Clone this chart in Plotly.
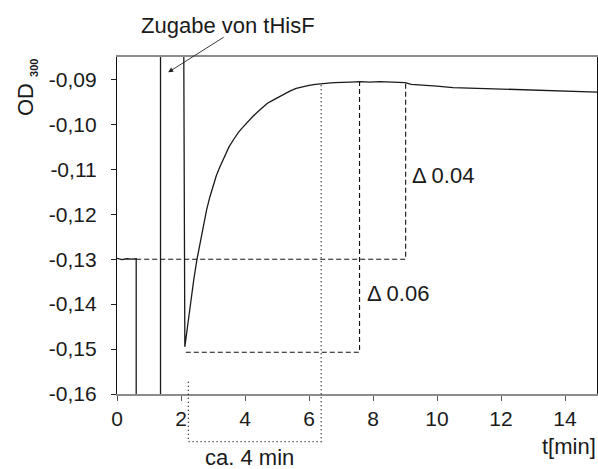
import plotly.graph_objects as go

# ---- data ----
t_min = [0.0, 0.15, 0.3, 0.45, 0.6, 0.6, 1.36, 1.36, 2.08, 2.12, 2.2, 2.3, 2.4, 2.5,
         2.6, 2.7, 2.8, 2.9, 3.0, 3.1, 3.2, 3.35, 3.5, 3.65, 3.8, 3.95, 4.1, 4.25,
         4.4, 4.55, 4.7, 4.85, 5.0, 5.2, 5.4, 5.6, 5.8, 6.0, 6.2, 6.4, 6.6, 6.8,
         7.0, 7.3, 7.6, 7.9, 8.2, 8.5, 8.8, 9.0, 9.2, 9.5, 10.0, 10.5, 11.0, 11.5,
         12.0, 12.5, 13.0, 13.5, 14.0, 14.5, 15.0]
od300 = [-0.1298, -0.1301, -0.1299, -0.1300, -0.1299, -0.175, -0.175, -0.07, -0.07,
         -0.1495, -0.1452, -0.1395, -0.1345, -0.1300, -0.1262, -0.1222, -0.1190,
         -0.1162, -0.1138, -0.1115, -0.1097, -0.1072, -0.1050, -0.1033, -0.1017,
         -0.1005, -0.0993, -0.0982, -0.0972, -0.0962, -0.0953, -0.0947, -0.0941,
         -0.0933, -0.0926, -0.0920, -0.0916, -0.0913, -0.0911, -0.0909, -0.0908,
         -0.0907, -0.0907, -0.0906, -0.0905, -0.0906, -0.0905, -0.0906, -0.0906,
         -0.0907, -0.0911, -0.0913, -0.0915, -0.0918, -0.0919, -0.0920, -0.0922,
         -0.0923, -0.0924, -0.0925, -0.0926, -0.0927, -0.0928]

# helper guide lines (Δ 0.04 and Δ 0.06 brackets, 4 min bracket)
delta04_t = [0.6, 9.02, 9.02]
delta04_od = [-0.1300, -0.1300, -0.0908]
delta06_t = [2.15, 7.58, 7.58]
delta06_od = [-0.1507, -0.1507, -0.0905]
span_t = [2.23, 2.23, 6.38, 6.38]
span_od = [-0.1573, -0.1706, -0.1706, -0.0909]

x_ticks = [0, 2, 4, 6, 8, 10, 12, 14]
y_ticks = [-0.16, -0.15, -0.14, -0.13, -0.12, -0.11, -0.10, -0.09]
y_ticktext = ["-0,16", "-0,15", "-0,14", "-0,13", "-0,12", "-0,11", "-0,10", "-0,09"]

X_RANGE = [0, 15]
Y_RANGE = [-0.16, -0.085]

FONT = "Liberation Sans, Arial, sans-serif"

W, H = 598, 469
L, R, T, B = 117, 1, 57, 75
PW, PH = W - L - R, H - T - B

fig = go.Figure()
fig.add_trace(go.Scatter(x=t_min, y=od300, mode="lines",
                         line=dict(color="#1a1a1a", width=1.3), showlegend=False,
                         hoverinfo="skip"))
fig.add_trace(go.Scatter(x=delta04_t, y=delta04_od, mode="lines",
                         line=dict(color="#111", width=1.1, dash="5px,3px"),
                         showlegend=False, hoverinfo="skip"))
fig.add_trace(go.Scatter(x=delta06_t, y=delta06_od, mode="lines",
                         line=dict(color="#111", width=1.1, dash="5px,3px"),
                         showlegend=False, hoverinfo="skip"))

# dotted bracket that runs below the axis: x in data, y mapped to paper
def to_paper(v):
    return (v - Y_RANGE[0]) / (Y_RANGE[1] - Y_RANGE[0])

path = "M " + " L ".join(f"{tx},{to_paper(v):.5f}" for tx, v in zip(span_t, span_od))
fig.add_shape(type="path", path=path, xref="x", yref="paper",
              line=dict(color="#111", width=1.3, dash="1px,3px"))


def px_x(p):  # screen pixel -> paper x
    return (p - L) / PW


def px_y(p):  # screen pixel -> paper y
    return 1 - (p - T) / PH


fig.update_layout(
    width=W, height=H,
    margin=dict(l=L, r=R, t=T, b=B),
    paper_bgcolor="white", plot_bgcolor="white",
    font=dict(family=FONT, size=21, color="#1a1a1a"),
    xaxis=dict(range=X_RANGE, tickvals=x_ticks, ticks="outside", ticklen=5,
               tickcolor="#555", showline=True, linecolor="#8c8c8c", linewidth=1.6,
               mirror=True, showgrid=False, zeroline=False,
               tickfont=dict(size=21)),
    yaxis=dict(range=Y_RANGE, tickvals=y_ticks, ticktext=y_ticktext,
               ticks="outside", ticklen=5, tickcolor="#222", showline=True,
               linecolor="#111", linewidth=1.2, mirror=True, showgrid=False,
               zeroline=False, tickfont=dict(size=21), ticklabelstandoff=10),
    annotations=[
        dict(text="Zugabe von tHisF", xref="paper", yref="paper",
             x=px_x(139), y=px_y(25), xanchor="left",
             yanchor="middle", showarrow=False, font=dict(size=22)),
        dict(text="", x=1.60, y=-0.0884, xref="x", yref="y", showarrow=True,
             ax=57, ay=-36, arrowhead=2, arrowsize=1.1, arrowwidth=0.9,
             arrowcolor="#222"),
        dict(text="Δ 0.04", x=9.16, y=-0.1114, xref="x", yref="y",
             xanchor="left", yanchor="middle", showarrow=False,
             font=dict(size=22)),
        dict(text="Δ 0.06", x=7.75, y=-0.1377, xref="x", yref="y",
             xanchor="left", yanchor="middle", showarrow=False,
             font=dict(size=22)),
        dict(text="ca. 4 min", xref="paper", yref="paper",
             x=px_x(249), y=px_y(458), xanchor="center",
             yanchor="middle", showarrow=False, font=dict(size=22)),
        dict(text="t[min]", xref="paper", yref="paper",
             x=px_x(598), y=px_y(446), xanchor="right",
             yanchor="middle", showarrow=False, font=dict(size=22)),
        dict(text="OD <sub><span style='font-size:11px;font-weight:bold'>300</span></sub>",
             xref="paper", yref="paper", x=px_x(27),
             y=px_y(88), xanchor="center", yanchor="middle",
             textangle=-90, showarrow=False, font=dict(size=22)),
    ],
)

fig.write_html(
    "out.html",
    config={"displayModeBar": False},
    post_script="document.body.style.margin='0px';"
                "document.documentElement.style.overflow='hidden';",
)
